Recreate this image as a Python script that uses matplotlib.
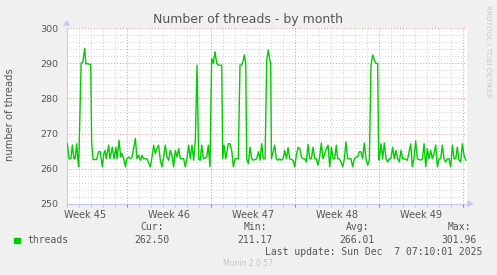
import matplotlib
matplotlib.use("Agg")
import matplotlib.pyplot as plt
from matplotlib.patches import Rectangle

# days since the left edge of the graph (Week 46 starts at day 5)
days = [0.05, 0.2, 0.35, 0.47, 0.6, 0.7, 0.83, 0.92, 1.0, 1.2, 1.35, 1.5, 1.6, 1.75, 1.9, 2.0,
        2.08, 2.2, 2.35, 2.5, 2.65, 2.8, 2.97, 3.1, 3.2, 3.3, 3.5, 3.6, 3.8, 3.95, 4.1, 4.2,
        4.36, 4.5, 4.6, 4.75, 4.9, 5.0, 5.15, 5.3, 5.45,
        5.72, 5.86, 6.0, 6.14, 6.28, 6.41, 6.69, 6.97, 7.11, 7.25, 7.38, 7.52, 7.66, 7.8, 7.94,
        8.08, 8.22, 8.36, 8.5, 8.63, 8.77, 8.91, 9.05, 9.19, 9.33, 9.47, 9.75, 9.88, 10.02,
        10.16, 10.3, 10.44, 10.58, 10.72, 10.86, 11.0, 11.13,
        11.25, 11.39, 11.67, 11.8, 11.94, 12.08, 12.22, 12.36, 12.5, 12.64, 12.92, 13.0, 13.11,
        13.25, 13.47, 13.61, 13.75, 13.89, 14.03, 14.3, 14.44, 14.58, 14.72, 14.8, 14.92, 15.0,
        15.14, 15.28, 15.42, 15.55, 15.83, 15.97, 16.11, 16.25, 16.39, 16.53, 16.67, 16.8,
        16.92, 17.0, 17.06, 17.33, 17.47, 17.61, 17.75, 17.89, 18.03, 18.17, 18.31, 18.45,
        18.58, 18.86, 19.0, 19.14, 19.28, 19.42, 19.56, 19.7, 19.83, 19.97, 20.11, 20.25,
        20.39, 20.53, 20.67, 20.8, 20.94, 21.08, 21.22, 21.36, 21.5, 21.64, 21.78, 21.92,
        22.06, 22.2, 22.33, 22.47,
        22.58, 22.72, 22.86, 23.0, 23.14, 23.27, 23.41, 23.69, 23.83, 23.97, 24.11, 24.25,
        24.38, 24.52, 24.66, 24.8, 24.94, 25.08, 25.22, 25.36, 25.5, 25.63, 25.77, 25.91, 26.0,
        26.05, 26.19, 26.33, 26.47, 26.61, 26.75, 26.88, 27.02, 27.16, 27.3, 27.44, 27.58,
        27.72, 27.86, 28.0, 28.13,
        28.39, 28.53, 28.67, 28.8, 28.94, 29.08, 29.22, 29.5, 29.64, 29.78, 29.92, 30.05,
        30.19, 30.33, 30.47, 30.61, 30.75, 30.89, 31.03, 31.17, 31.3, 31.44, 31.58, 31.72,
        31.86, 32.0, 32.14, 32.28, 32.42, 32.55, 32.69, 32.83, 32.97, 33.11, 33.25]

threads = [267.1, 262.8, 262.8, 266.7, 262.8, 262.8, 267.1, 262.8, 260.5, 290.0, 290.5, 294.3, 289.8, 290.0, 289.7, 289.7,
           267.3, 262.6, 262.6, 262.6, 264.8, 264.8, 260.5, 264.3, 265.2, 262.8, 266.7, 262.8, 266.1, 262.8, 266.1, 262.8,
           268.1, 263.3, 264.3, 262.8, 260.5, 262.8, 263.3, 262.8, 263.3,
           268.6, 262.8, 263.8, 262.4, 263.8, 262.8, 262.8, 260.5, 263.3, 266.7, 264.3, 265.7, 266.7, 262.4, 260.5,
           263.3, 266.7, 263.3, 262.4, 265.2, 263.8, 260.5, 265.2, 263.3, 265.7, 262.8, 262.8, 260.5, 262.8,
           266.7, 262.8, 266.7, 262.4, 268.1, 289.5, 262.8, 262.4,
           266.7, 262.8, 263.3, 266.7, 260.5, 291.4, 290.0, 293.3, 290.0, 289.5, 289.5, 262.8, 266.7,
           262.8, 267.1, 267.1, 265.2, 260.5, 262.8, 262.8, 289.5, 289.5, 291.0, 292.4, 290.0, 262.8,
           261.4, 266.1, 262.8, 262.4, 262.8, 264.8, 262.4, 267.1, 262.8, 262.8, 291.0, 293.8,
           291.0, 290.0, 262.8, 266.7, 262.8, 262.4, 262.8, 262.4, 262.8, 265.2, 262.8, 266.0,
           262.8, 262.4, 260.5, 263.8, 266.1, 265.7, 263.3, 262.8, 262.8, 261.9, 266.9, 262.8,
           262.8, 266.1, 262.8, 262.8, 261.0, 263.3, 267.3, 262.8, 264.3, 265.7, 266.7, 260.5,
           266.1, 262.8, 262.8, 266.7,
           262.8, 262.8, 261.9, 260.5, 262.8, 267.6, 262.8, 262.8, 260.5, 262.8, 263.3, 263.3,
           264.8, 264.8, 262.8, 267.3, 262.8, 261.0, 262.4, 289.5, 292.4, 291.0, 290.0, 290.0, 262.8,
           262.4, 267.1, 262.8, 267.3, 262.8, 261.9, 262.8, 262.8, 266.1, 262.8, 265.2, 262.8,
           261.9, 265.2, 262.8, 262.8,
           262.4, 264.8, 267.1, 260.5, 262.8, 267.9, 262.8, 262.4, 262.8, 267.1, 260.5, 265.7,
           262.8, 265.2, 262.8, 264.3, 266.7, 260.5, 262.8, 262.8, 266.7, 262.8, 261.9, 262.8,
           262.8, 260.5, 266.7, 262.8, 262.8, 266.1, 262.4, 261.9, 267.1, 263.8, 262.4]

week_starts = [5, 12, 19, 26, 33]
week_labels = ["Week 45", "Week 46", "Week 47", "Week 48", "Week 49"]
week_centers = [1.5, 8.5, 15.5, 22.5, 29.5]
y_ticks = [250, 260, 270, 280, 290, 300]

stat_names = ["Cur:", "Min:", "Avg:", "Max:"]
stat_values = ["262.50", "211.17", "266.01", "301.96"]

W, H = 497, 275
BG = "#f0f0f0"
TXT = "#555555"
AXC = "#c8c8ee"
GRID = "#cfcfcf"
MAJOR = "#e89090"


def fx(px):
    return px / W


def fy(py):
    return 1 - py / H


fig = plt.figure(figsize=(W / 100, H / 100), dpi=100, facecolor=BG)
ax = fig.add_axes([fx(66.7), fy(203.7), 400.5 / W, 175.4 / H])
ax.set_facecolor("white")

# grid: grey dotted minor, red dotted major
for d in range(0, 34):
    if d not in week_starts:
        ax.axvline(d, color=GRID, lw=0.7, ls=(0, (1, 2)), zorder=1)
for yv in range(252, 300, 2):
    if yv % 10:
        ax.axhline(yv, color=GRID, lw=0.7, ls=(0, (1, 2)), zorder=1)
for d in week_starts:
    ax.axvline(d, color=MAJOR, lw=0.7, ls=(0, (1, 2)), zorder=1.5)
for yv in y_ticks[1:]:
    ax.axhline(yv, color=MAJOR, lw=0.7, ls=(0, (1, 2)), zorder=1.5)

ax.plot(days, threads, color="#00cc00", lw=1.0, zorder=3)

ax.set_xlim(0, 33.375)
ax.set_ylim(250, 300)
for s in ["top", "right"]:
    ax.spines[s].set_visible(False)
for s in ["left", "bottom"]:
    ax.spines[s].set_color(AXC)
    ax.spines[s].set_linewidth(0.8)

ax.set_yticks(y_ticks)
ax.tick_params(axis="y", length=0, labelsize=6.8, labelcolor=TXT, pad=6)
ax.set_xticks(week_starts)
ax.set_xticklabels([])
ax.set_xticks(range(0, 34), minor=True)
ax.tick_params(axis="x", which="major", length=2, color="#ee6666", direction="out")
ax.tick_params(axis="x", which="minor", length=2, color="#bbbbbb", direction="out")
ax.tick_params(axis="y", which="minor", length=0)

for c, lab in zip(week_centers, week_labels):
    ax.text(c, 246.8, lab, ha="center", va="center", fontsize=7, color=TXT,
            clip_on=False)

# axis arrows
fig.patches.append(plt.Polygon([[fx(64.2), fy(25)], [fx(69.2), fy(25)], [fx(66.7), fy(21)]],
                               closed=True, color=AXC, transform=fig.transFigure))
fig.patches.append(plt.Polygon([[fx(468), fy(201.2)], [fx(468), fy(206.2)], [fx(472.5), fy(203.7)]],
                               closed=True, color=AXC, transform=fig.transFigure))
ax.plot([33.375, 33.45], [250, 250], color=AXC, lw=0.8, clip_on=False)

fig.text(fx(248), fy(19), "Number of threads - by month", ha="center", va="center",
         fontsize=9, color=TXT)
fig.text(fx(10), fy(115), "number of threads", rotation=90, ha="center", va="center",
         fontsize=7.2, color=TXT)
fig.text(fx(488), fy(5), "RRDTOOL / TOBI OETIKER", rotation=270, ha="center", va="top",
         fontsize=5.2, color="#c8c8c8")

# legend
mono = "DejaVu Sans Mono"
fig.patches.append(Rectangle((fx(14), fy(243)), 5.5 / W, 5.5 / H, color="#00cc00",
                             transform=fig.transFigure))
fig.text(fx(27), fy(240), "threads", fontsize=7, family=mono, color=TXT, va="center")
stat_x = [169.5, 273, 375, 477]
for x, name, val in zip(stat_x, stat_names, stat_values):
    fig.text(fx(x - 17.5), fy(227.3), name, fontsize=7, family=mono, color=TXT,
             ha="center", va="center")
    fig.text(fx(x), fy(240), val, fontsize=7, family=mono, color=TXT, ha="right", va="center")
fig.text(fx(482.7), fy(251.7), "Last update: Sun Dec  7 07:10:01 2025", fontsize=7,
         family=mono, color=TXT, ha="right", va="center")
fig.text(fx(248), fy(264), "Munin 2.0.57", fontsize=5.5, color="#c4c4c4", ha="center",
         va="center")

fig.savefig("out.png", dpi=100, facecolor=BG)
